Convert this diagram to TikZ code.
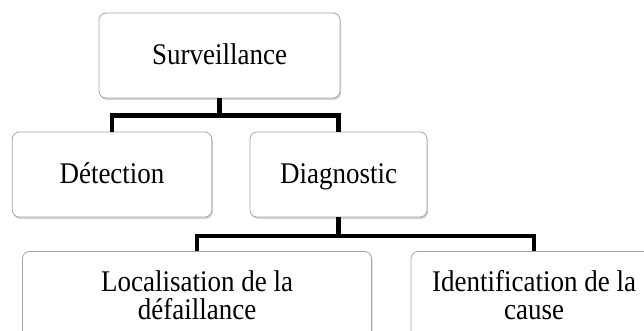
\documentclass[tikz,border=0pt]{standalone}
\usepackage{fontspec}
\setmainfont[FakeStretch=0.9]{Liberation Serif}
\usetikzlibrary{shadows}

\tikzset{
  boite/.style={draw=gray!70, line width=0.8pt, rounded corners=7pt, fill=white,
    drop shadow={shadow xshift=1pt, shadow yshift=-2pt, opacity=0.35, fill=gray},
    align=center, inner sep=0pt},
  uneligne/.style={text height=25pt, text depth=7pt},
  lien/.style={line width=4.8pt, draw=black}
}

\begin{document}
\begin{tikzpicture}[x=1pt, y=-1pt, every node/.style={font=\fontsize{30}{27.6}\selectfont}]
    \useasboundingbox (0,0) rectangle (644,331);
    % niveau 1
    \node[boite, uneligne, minimum width=241pt, minimum height=85pt] (surv) at (219.5,55.5) {Surveillance};
    % niveau 2
    \node[boite, uneligne, minimum width=199.5pt, minimum height=85pt] (detec) at (112,174.5) {D\'etection};
    \node[boite, uneligne, minimum width=177pt, minimum height=85pt] (diag) at (338.5,174.5) {Diagnostic};
    % niveau 3
    \node[boite, minimum width=349pt, minimum height=87.6pt] (local) at (197,295.3) {Localisation de la\\d\'efaillance};
    \node[boite, minimum width=246pt, minimum height=87.6pt] (ident) at (534,295.3) {Identification de la\\cause};
    \draw[lien] (surv.south) -- ++(0,17) -| (detec.north);
    \draw[lien] (surv.south) -- ++(0,17) -| (diag.north);
    \draw[lien] (diag.south) -- ++(0,18.5) -| (local.north);
    \draw[lien] (diag.south) -- ++(0,18.5) -| (ident.north);
  \end{tikzpicture}
\end{document}
